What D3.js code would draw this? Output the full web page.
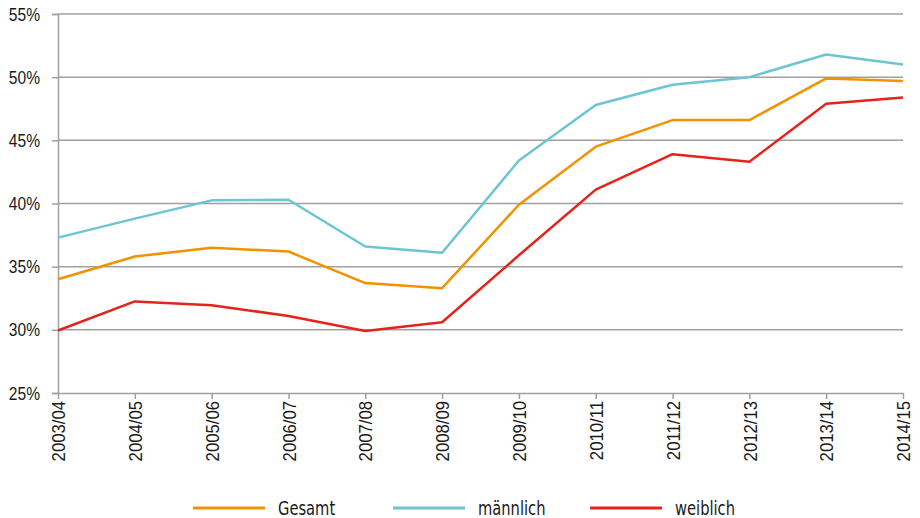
<!DOCTYPE html>
<html>
<head>
<meta charset="utf-8">
<script src="https://cdn.jsdelivr.net/npm/d3@7"></script>
<style>
  body { margin: 0; background: #fff; }
  svg { display: block; font-family: 'Liberation Sans Narrow', 'DejaVu Sans Condensed', sans-serif; font-stretch: condensed; }
</style>
</head>
<body>
<svg id="chart" width="920" height="518"></svg>
<script>
const years = ['2003/04', '2004/05', '2005/06', '2006/07', '2007/08', '2008/09',
  '2009/10', '2010/11', '2011/12', '2012/13', '2013/14', '2014/15'];
const gesamt = [34.0, 35.8, 36.5, 36.2, 33.7, 33.3, 39.9, 44.5, 46.6, 46.6, 49.9, 49.7];
const maennlich = [37.3, 38.8, 40.25, 40.3, 36.6, 36.1, 43.4, 47.8, 49.4, 50.0, 51.8, 51.0];
const weiblich = [29.95, 32.25, 31.95, 31.1, 29.9, 30.6, 35.9, 41.1, 43.9, 43.3, 47.9, 48.4];
const yTicks = [25, 30, 35, 40, 45, 50, 55];

const series = [
  { name: 'Gesamt', values: gesamt, color: '#f39200' },
  { name: 'männlich', values: maennlich, color: '#6dc5d2' },
  { name: 'weiblich', values: weiblich, color: '#e5231b' },
];
// legend draws in this order, lines draw männlich / Gesamt / weiblich
const drawOrder = [1, 0, 2];

const margin = { top: 14, right: 17, bottom: 125, left: 58 };
const width = 920 - margin.left - margin.right;
const height = 518 - margin.top - margin.bottom;

// squeeze text a bit to mimic the condensed original typeface
const squeeze = 0.82;

const svg = d3.select('#chart');
const g = svg.append('g').attr('transform', `translate(${margin.left},${margin.top})`);

const x = d3.scalePoint().domain(years).range([0, width]);
const y = d3.scaleLinear().domain([25, 55]).range([height, 0]);

// gridlines
g.selectAll('line.grid')
  .data(yTicks.slice(1))
  .enter().append('line')
    .attr('class', 'grid')
    .attr('x1', 0).attr('x2', width)
    .attr('y1', d => y(d)).attr('y2', d => y(d))
    .attr('stroke', '#a0a0a0')
    .attr('stroke-width', 1.5);

// y axis
const yAxis = g.append('g')
    .call(d3.axisLeft(y).tickValues(yTicks).tickSize(6).tickFormat(d => d + '%'));
yAxis.select('.domain').attr('stroke', '#a0a0a0').attr('stroke-width', 1.5);
yAxis.selectAll('.tick line').attr('stroke', '#a0a0a0').attr('stroke-width', 1.5);
yAxis.selectAll('.tick text')
    .attr('font-size', 19)
    .attr('font-family', null)
    .attr('fill', '#1a1a1a')
    .attr('x', 0)
    .attr('transform', `translate(-18,0) scale(${squeeze},1)`);

// x axis
const xAxis = g.append('g')
    .attr('transform', `translate(0,${height})`)
    .call(d3.axisBottom(x).tickSize(6).tickSizeOuter(0));
xAxis.select('.domain').attr('stroke', '#a0a0a0').attr('stroke-width', 1.5);
xAxis.selectAll('.tick line').attr('stroke', '#a0a0a0').attr('stroke-width', 1.5);
xAxis.selectAll('.tick text')
    .attr('font-size', 19)
    .attr('font-family', null)
    .attr('fill', '#1a1a1a')
    .attr('transform', `translate(0,8) rotate(-90) scale(0.88,1)`)
    .attr('text-anchor', 'end')
    .attr('x', 0)
    .attr('y', 0)
    .attr('dy', '0.35em');

// lines
const line = d3.line()
    .x((d, i) => x(years[i]))
    .y(d => y(d));

g.selectAll('path.series')
  .data(drawOrder.map(i => series[i]))
  .enter().append('path')
    .attr('class', 'series')
    .attr('fill', 'none')
    .attr('stroke', d => d.color)
    .attr('stroke-width', 2.5)
    .attr('stroke-linejoin', 'round')
    .attr('d', d => line(d.values));

// legend
const legendX = [193, 393, 590];
const legend = svg.selectAll('g.legend')
  .data(series)
  .enter().append('g')
    .attr('class', 'legend')
    .attr('transform', (d, i) => `translate(${legendX[i]},508)`);
legend.append('line')
    .attr('x1', 0).attr('x2', 72)
    .attr('stroke', d => d.color)
    .attr('stroke-width', 3);
legend.append('text')
    .attr('transform', `translate(85,0) scale(0.86,1)`)
    .attr('dy', '0.35em')
    .attr('font-size', 19)
    .attr('fill', '#1a1a1a')
    .text(d => d.name);
</script>
</body>
</html>
